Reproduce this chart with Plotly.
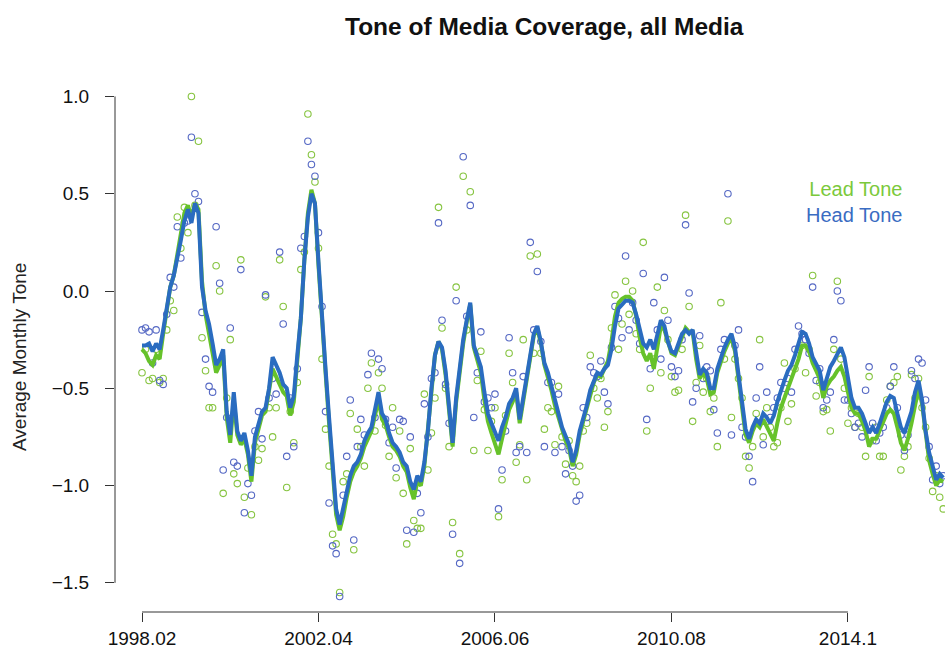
import plotly.graph_objects as go

# month index (1 = 1998.02)
months = list(range(1, 229))
tick_pos = [1, 51, 101, 151, 201]
tick_labels = ["1998.02", "2002.04", "2006.06", "2010.08", "2014.1"]
y_ticks = [-1.5, -1.0, -0.5, 0.0, 0.5, 1.0]

lead_points = [
    -0.42, -0.30, -0.46, -0.45, -0.30, -0.47, -0.45, -0.20, -0.05, -0.10,
    0.38, 0.22, 0.43, 0.30, 1.00, 0.44, 0.77, -0.24, -0.41, -0.60,
    -0.60, 0.13, 0.00, -1.04, -0.55, -0.25, -0.94, -0.99, 0.16, -1.06,
    -0.91, -1.15, -0.80, -0.87, -0.81, -0.03, -0.60, -0.75, -0.60, 0.16,
    -0.08, -1.01, -0.62, -0.78, -0.47, 0.11, 0.20, 0.91, 0.70, 0.56,
    0.22, -0.35, -0.71, -0.90, -1.25, -1.30, -1.55, -0.98, -0.94, -0.63,
    -1.33, -0.71, -0.80, -0.90, -0.50, -0.37, -0.72, -0.42, -0.50, -0.69,
    -0.85, -0.60, -0.96, -0.72, -1.04, -1.30, -0.81, -1.18, -1.22, -1.22,
    -0.53, -0.92, -0.73, -0.55, 0.43, -0.19, -0.50, -0.80, -1.19, 0.02,
    -1.35, 0.59, -0.20, 0.51, -0.82, -0.46, -0.31, -0.61, -0.82, -0.67,
    -0.60, -1.16, -0.97, -0.64, -0.32, -0.47, -0.88, -0.79, -0.25, -0.97,
    0.18, -0.32, 0.19, -0.32, -0.71, -0.60, -0.62, -0.79, -0.49, -0.75,
    -0.89, -0.77, -0.95, -0.98, -0.90, -0.72, -0.68, -0.33, -0.50, -0.55,
    -0.45, -0.70, -0.62, -0.19, -0.02, -0.30, -0.17, 0.05, -0.12, 0.00,
    -0.22, -0.30, 0.25, -0.72, -0.50, -0.35, 0.02, -0.42, -0.10, -0.25,
    -0.44, -0.52, -0.51, -0.30, 0.39, -0.08, -0.67, -0.47, -0.28, -0.52,
    -0.45, -0.62, -0.55, -0.80, -0.06, -0.35, 0.36, -0.65, -0.35, -0.45,
    -0.55, -0.85, -0.91, -0.80, -0.63, -0.25, -0.75, -0.60, -0.70, -0.80,
    -0.78, -0.60, -0.37, -0.67, -0.58, -0.40, -0.30, -0.28, -0.42, -0.30,
    0.08, -0.54, -0.47, -0.62, -0.61, -0.72, -0.30, 0.05, -0.35, -0.50,
    -0.68, -0.60, -0.70, -0.63, -0.70, -0.85, -0.44, -0.77, -0.70, -0.85,
    -0.85, -0.56, -0.49, -0.47, -0.44, -0.92, -0.85, -0.80, -0.43, -0.55,
    -0.45, -0.60, -0.70, -0.86, -1.03, -0.95, -1.06, -1.12,
]

head_points = [
    -0.20, -0.19, -0.21, -0.37, -0.20, -0.46, -0.48, -0.12, 0.07, 0.02,
    0.33, 0.17, 0.35, 0.36, 0.79, 0.50, 0.46, -0.11, -0.35, -0.49,
    -0.52, 0.33, 0.04, -0.92, -0.65, -0.19, -0.88, -0.90, 0.11, -1.14,
    -0.99, -1.05, -0.72, -0.62, -0.76, -0.02, -0.55, -0.45, -0.53, 0.20,
    -0.17, -0.85, -0.55, -0.80, -0.40, 0.22, 0.28, 0.77, 0.65, 0.59,
    0.30, -0.08, -0.62, -1.09, -1.31, -1.35, -1.57, -1.05, -0.85, -0.56,
    -1.28, -0.80, -0.66, -0.74, -0.43, -0.32, -0.65, -0.35, -0.40, -0.66,
    -0.78, -0.70, -0.91, -0.66, -0.67, -1.23, -0.75, -1.24, -1.04, -1.14,
    -0.58, -0.75, -0.45, -0.42, 0.35, -0.15, -0.48, -0.68, -1.25, -0.05,
    -1.40, 0.69, -0.13, 0.44, -0.65, -0.42, -0.21, -0.57, -0.55, -0.60,
    -0.53, -1.12, -0.92, -0.72, -0.24, -0.42, -0.83, -0.80, -0.44, -0.83,
    0.25, -0.20, 0.10, -0.26, -0.80, -0.47, -0.47, -0.83, -0.53, -0.80,
    -0.94, -0.82, -0.90, -1.08, -1.05, -0.60, -0.65, -0.39, -0.42, -0.44,
    -0.36, -0.52, -0.58, -0.29, -0.08, -0.14, -0.24, 0.18, -0.20, -0.06,
    -0.15, -0.27, 0.09, -0.66, -0.40, -0.06, -0.20, -0.35, 0.07, -0.15,
    -0.39, -0.44, -0.41, -0.25, 0.34, -0.01, -0.57, -0.50, -0.23, -0.45,
    -0.39, -0.41, -0.61, -0.73, -0.30, -0.25, 0.50, -0.74, -0.28, -0.20,
    -0.70, -0.75, -0.85, -0.98, -0.55, -0.39, -0.79, -0.52, -0.65, -0.60,
    -0.55, -0.47, -0.50, -0.45, -0.52, -0.30, -0.18, -0.22, -0.25, -0.32,
    0.02, -0.46, -0.40, -0.60, -0.56, -0.52, -0.25, 0.00, -0.05, -0.56,
    -0.56, -0.63, -0.70, -0.68, -0.75, -0.51, -0.39, -0.68, -0.77, -0.73,
    -0.70, -0.60, -0.49, -0.39, -0.60, -0.74, -0.82, -0.74, -0.41, -0.45,
    -0.35, -0.37, -0.56, -0.80, -0.97, -0.90, -0.99, -0.95,
]

lead_smooth = [
    -0.30, -0.32, -0.36, -0.38, -0.33, -0.35, -0.22, -0.10, 0.02, 0.08,
    0.18, 0.30, 0.40, 0.44, 0.38, 0.45, 0.42, 0.05, -0.12, -0.22,
    -0.32, -0.42, -0.38, -0.33, -0.65, -0.78, -0.56, -0.74, -0.79, -0.76,
    -0.84, -0.98, -0.78, -0.70, -0.64, -0.62, -0.52, -0.40, -0.44, -0.48,
    -0.52, -0.54, -0.64, -0.57, -0.35, -0.14, 0.16, 0.40, 0.52, 0.45,
    0.13, -0.17, -0.42, -0.68, -0.95, -1.15, -1.23, -1.16, -1.06, -0.98,
    -0.93, -0.90, -0.86, -0.80, -0.76, -0.72, -0.64, -0.56, -0.66, -0.69,
    -0.75, -0.80, -0.82, -0.85, -0.90, -0.93, -1.01, -1.07, -0.98, -1.00,
    -0.90, -0.72, -0.50, -0.33, -0.26, -0.30, -0.43, -0.60, -0.80, -0.57,
    -0.40, -0.27, -0.16, -0.07, -0.29, -0.36, -0.42, -0.56, -0.67, -0.73,
    -0.79, -0.84, -0.76, -0.69, -0.61, -0.57, -0.52, -0.68, -0.57, -0.45,
    -0.34, -0.23, -0.19, -0.27, -0.38, -0.44, -0.51, -0.59, -0.65, -0.72,
    -0.77, -0.81, -0.90, -0.84, -0.74, -0.67, -0.60, -0.52, -0.47, -0.43,
    -0.44, -0.40, -0.36, -0.26, -0.13, -0.06, -0.04, -0.03, -0.03, -0.05,
    -0.13, -0.24, -0.32, -0.36, -0.32, -0.40, -0.30, -0.18, -0.20, -0.27,
    -0.32, -0.33, -0.28, -0.23, -0.19, -0.21, -0.21, -0.35, -0.45, -0.42,
    -0.45, -0.53, -0.52, -0.42, -0.36, -0.31, -0.27, -0.24, -0.31, -0.45,
    -0.59, -0.74, -0.78, -0.72, -0.68, -0.70, -0.66, -0.70, -0.74, -0.77,
    -0.68, -0.60, -0.55, -0.50, -0.46, -0.41, -0.35, -0.28, -0.28, -0.31,
    -0.37, -0.41, -0.45, -0.55, -0.49, -0.46, -0.44, -0.41, -0.39, -0.44,
    -0.52, -0.60, -0.63, -0.63, -0.67, -0.72, -0.80, -0.76, -0.76, -0.72,
    -0.67, -0.63, -0.61, -0.63, -0.70, -0.78, -0.82, -0.76, -0.68, -0.58,
    -0.50, -0.58, -0.74, -0.87, -0.94, -1.00, -0.97, -0.98,
]

head_smooth = [
    -0.28, -0.28, -0.27, -0.31, -0.27, -0.30, -0.20, -0.08, 0.02, 0.08,
    0.16, 0.26, 0.36, 0.42, 0.35, 0.45, 0.40, 0.02, -0.10, -0.17,
    -0.27, -0.38, -0.35, -0.30, -0.62, -0.74, -0.52, -0.72, -0.77, -0.73,
    -0.82, -0.95, -0.75, -0.68, -0.62, -0.60, -0.50, -0.34, -0.38, -0.42,
    -0.48, -0.50, -0.60, -0.54, -0.33, -0.14, 0.16, 0.38, 0.50, 0.45,
    0.15, -0.15, -0.40, -0.65, -0.92, -1.12, -1.20, -1.12, -1.03, -0.95,
    -0.90, -0.88, -0.84, -0.77, -0.73, -0.70, -0.61, -0.52, -0.63, -0.66,
    -0.73, -0.78, -0.80, -0.83, -0.88, -0.90, -0.98, -1.02, -0.95, -0.98,
    -0.88, -0.72, -0.50, -0.33, -0.26, -0.29, -0.41, -0.58, -0.78, -0.55,
    -0.38, -0.25, -0.15, -0.06, -0.28, -0.34, -0.39, -0.52, -0.63, -0.68,
    -0.73, -0.77, -0.70, -0.65, -0.58, -0.55, -0.50, -0.66, -0.55, -0.43,
    -0.33, -0.22, -0.18, -0.26, -0.37, -0.42, -0.49, -0.57, -0.63, -0.70,
    -0.75, -0.79, -0.88, -0.82, -0.72, -0.66, -0.59, -0.51, -0.46, -0.42,
    -0.43, -0.40, -0.38, -0.30, -0.18, -0.09, -0.07, -0.05, -0.05, -0.06,
    -0.12, -0.20, -0.27, -0.29, -0.25, -0.30, -0.22, -0.15, -0.18, -0.26,
    -0.31, -0.32, -0.27, -0.22, -0.20, -0.22, -0.20, -0.33, -0.43, -0.40,
    -0.42, -0.50, -0.50, -0.40, -0.34, -0.29, -0.25, -0.22, -0.29, -0.42,
    -0.56, -0.71, -0.76, -0.70, -0.66, -0.68, -0.63, -0.65, -0.68, -0.64,
    -0.57, -0.51, -0.46, -0.41, -0.38, -0.33, -0.27, -0.21, -0.22, -0.27,
    -0.34, -0.38, -0.41, -0.51, -0.44, -0.39, -0.36, -0.32, -0.29, -0.34,
    -0.44, -0.55, -0.60, -0.60, -0.63, -0.68, -0.73, -0.70, -0.73, -0.68,
    -0.62, -0.57, -0.54, -0.55, -0.63, -0.70, -0.73, -0.68, -0.62, -0.52,
    -0.46, -0.56, -0.72, -0.83, -0.90, -0.97, -0.94, -0.96,
]

series_names = ["Lead Tone", "Head Tone"]

GREEN_PT = "#86C440"
BLUE_PT = "#5568C4"
GREEN_LN = "#66C22A"
BLUE_LN = "#2A6CC0"
GREEN_TXT = "#7BC93B"
BLUE_TXT = "#3A6CC2"
FONT = "Liberation Sans, Arial, Helvetica, sans-serif"

fig = go.Figure()
fig.add_trace(go.Scatter(x=months, y=lead_points, mode="markers",
                         marker=dict(symbol="circle-open", size=6.5, color=GREEN_PT, line=dict(width=1.1)),
                         showlegend=False, hoverinfo="skip"))
fig.add_trace(go.Scatter(x=months, y=head_points, mode="markers",
                         marker=dict(symbol="circle-open", size=6.5, color=BLUE_PT, line=dict(width=1.1)),
                         showlegend=False, hoverinfo="skip"))
fig.add_trace(go.Scatter(x=months, y=lead_smooth, mode="lines", name=series_names[0],
                         line=dict(color=GREEN_LN, width=4), showlegend=False))
fig.add_trace(go.Scatter(x=months, y=head_smooth, mode="lines", name=series_names[1],
                         line=dict(color=BLUE_LN, width=4), showlegend=False))

legend_text = (f"<span style='color:{GREEN_TXT}'>{series_names[0]}</span><br>"
               f"<span style='color:{BLUE_TXT}'>{series_names[1]}</span>")

axis_col = "#333333"
fig.update_layout(
    width=945, height=662,
    margin=dict(l=115, r=0, t=77, b=50),
    paper_bgcolor="white", plot_bgcolor="white",
    font=dict(family=FONT, size=19, color="#111111"),
    xaxis=dict(range=[-6.65, 228.5], tickvals=tick_pos, ticktext=tick_labels,
               showgrid=False, zeroline=False, showline=False,
               ticks="outside", ticklen=9, tickcolor=axis_col, tickwidth=1,
               tickfont=dict(size=19, family=FONT, color="#111111")),
    yaxis=dict(range=[-1.65, 1.10], tickvals=y_ticks,
               ticktext=[f"{v:.1f}".replace("-", "\u2212") for v in y_ticks],
               showgrid=False, zeroline=False, showline=False,
               ticks="outside", ticklen=9, tickcolor=axis_col, tickwidth=1,
               ticklabelstandoff=12,
               tickfont=dict(size=19, family=FONT, color="#111111")),
    shapes=[
        dict(type="line", xref="x", yref="paper", x0=tick_pos[0], x1=tick_pos[-1], y0=0, y1=0,
             line=dict(color=axis_col, width=1)),
        dict(type="line", xref="paper", yref="y", x0=0, x1=0, y0=y_ticks[0], y1=y_ticks[-1],
             line=dict(color=axis_col, width=1)),
    ],
    annotations=[
        dict(text="<b>Tone of Media Coverage, all Media</b>", xref="paper", yref="paper",
             x=(544 - 115) / 830, y=1 + (77 - 27) / 535, xanchor="center", yanchor="middle",
             showarrow=False, font=dict(size=24.5, family=FONT, color="#111111")),
        dict(text="Average Monthly Tone", xref="paper", yref="paper",
             x=-(115 - 19) / 830, y=(612 - 357) / 535, xanchor="center", yanchor="middle",
             textangle=-90, showarrow=False, font=dict(size=19, family=FONT, color="#222222")),
        dict(text=legend_text, xref="paper", yref="paper", align="right",
             x=(904 - 115) / 830, y=(612 - 202) / 535, xanchor="right", yanchor="middle",
             showarrow=False, font=dict(size=20, family=FONT)),
    ],
)

fig.write_html("out.html")
